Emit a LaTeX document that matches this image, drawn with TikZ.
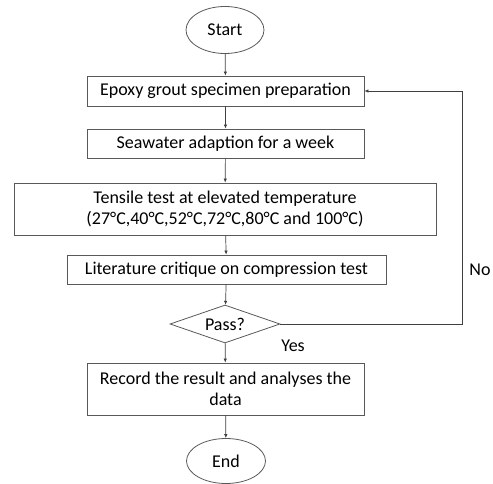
\documentclass[tikz,border=0pt]{standalone}
\usepackage{fontspec}
\setmainfont{Carlito}
\usetikzlibrary{shapes.geometric,arrows.meta}
\begin{document}
\begin{tikzpicture}[x=1pt,y=-1pt,
	box/.style={draw=black!65, line width=0.8pt, rectangle, inner sep=0pt,
		align=center, font=\fontsize{18}{21.5}\selectfont},
	term/.style={draw=black!65, line width=0.8pt, ellipse, inner sep=0pt,
		font=\fontsize{18}{21.5}\selectfont},
	decision/.style={draw=black!65, line width=0.8pt, diamond, inner sep=0pt,
		font=\fontsize{18}{21.5}\selectfont},
	flow/.style={draw=black!75, line width=0.7pt,
		-{Latex[length=4pt,width=3.5pt]}}]
	\useasboundingbox (0,0) rectangle (493,484);
	% Ablauf
	\node[term, minimum width=78, minimum height=47] (start) at (225,30) {Start};
	\node[box, minimum width=277, minimum height=30] (prep) at (225.5,91)
	{Epoxy grout specimen preparation};
	\node[box, minimum width=277, minimum height=29] (sea) at (225.5,143.5)
	{Seawater adaption for a week};
	\node[box, minimum width=422, minimum height=52] (tens) at (225,209)
	{Tensile test at elevated temperature\\(27°C,40°C,52°C,72°C,80°C and 100°C)};
	\node[box, minimum width=319, minimum height=29] (lit) at (226.5,269.5)
	{Literature critique on compression test};
	\node[decision, minimum width=110, minimum height=38, aspect=2.9] (pass)
	at (225,324) {Pass?};
	\node[box, minimum width=277, minimum height=52] (rec) at (225.5,389)
	{Record the result and analyses the\\data};
	\node[term, minimum width=79, minimum height=45] (end) at (226,461) {End};
	% Beschriftungen
	\node[font=\fontsize{18}{21.5}\selectfont] (no) at (480,270) {No};
	\node[font=\fontsize{18}{21.5}\selectfont] (yes) at (293,346) {Yes};
	% Pfeile
	\draw[flow] (start) -- (prep);
	\draw[flow] (prep) -- (sea);
	\draw[flow] (sea) -- (tens);
	\draw[flow] (tens) -- (lit);
	\draw[flow] (lit) -- (pass);
	\draw[flow] (pass) -- (rec);
	\draw[flow] (rec) -- (end);
	\coordinate (loop) at (462,324);
	\draw[flow] (pass.east) -- (loop) |- (prep.east);
\end{tikzpicture}
\end{document}
